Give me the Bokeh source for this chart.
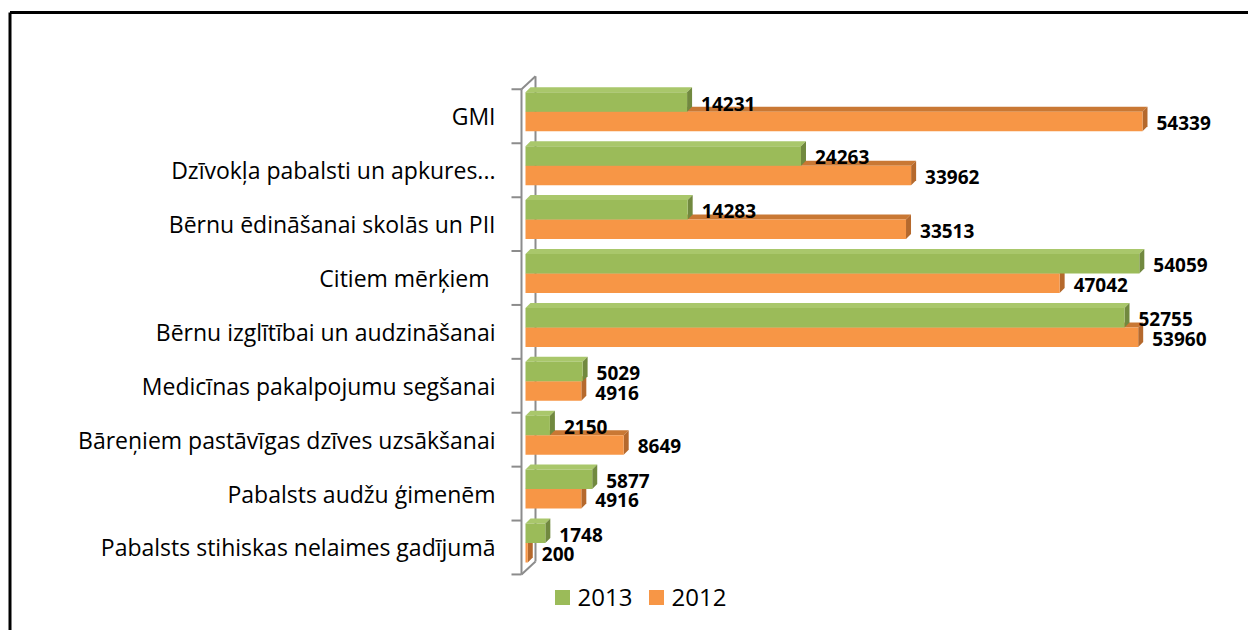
from bokeh.plotting import figure
from bokeh.models import Range1d
from bokeh.embed import file_html
from bokeh.resources import INLINE
from bokeh.core.properties import value

# ---------------- data ----------------
categories = [
    "GMI",
    "Dzīvokļa pabalsti un apkures...",
    "Bērnu ēdināšanai skolās un PII",
    "Citiem mērķiem ",
    "Bērnu izglītībai un audzināšanai",
    "Medicīnas pakalpojumu segšanai",
    "Bāreņiem pastāvīgas dzīves uzsākšanai",
    "Pabalsts audžu ģimenēm",
    "Pabalsts stihiskas nelaimes gadījumā",
]
vals_2013 = [14231, 24263, 14283, 54059, 52755, 5029, 2150, 5877, 1748]
vals_2012 = [54339, 33962, 33513, 47042, 53960, 4916, 8649, 4916, 200]
series_names = ["2013", "2012"]

# ---------------- style ----------------
GREEN = "#9BBB59"; GREEN_TOP = "#A9C76B"; GREEN_SIDE = "#71893F"
ORANGE = "#F79646"; ORANGE_TOP = "#C97834"; ORANGE_SIDE = "#B5692D"
AXIS_GRAY = "#8C8C8C"
FONT = "Open Sans"

W, H = 1248, 630
xr = Range1d(-46236, 63675)
yr = Range1d(-1.540, 10.148)
PXX = W / (xr.end - xr.start)
PXY = H / (yr.end - yr.start)

def dxu(px):
    return px / PXX

def dyu(px):
    return px / PXY

def x_of(page_px):
    return xr.start + page_px / PXX

def y_of(page_py):
    return yr.end - page_py / PXY

p = figure(width=W, height=H, x_range=xr, y_range=yr, output_backend="svg",
           toolbar_location=None, min_border=0)
p.axis.visible = False
p.grid.visible = False
p.outline_line_color = None
p.background_fill_color = "white"
p.border_fill_color = "white"

n = len(categories)
centers = [n - 1 - i for i in range(n)]
DX, DY = dxu(5), dyu(5)

# ---------------- back wall / axis ----------------
front_x = x_of(521)
back_x = x_of(535)
top_c = centers[0] + 0.5
bot_c = centers[-1] - 0.5
wall_dy = dyu(13)
p.segment(x0=[front_x], y0=[bot_c], x1=[front_x], y1=[top_c], line_color=AXIS_GRAY, line_width=2)
p.segment(x0=[back_x], y0=[bot_c + wall_dy], x1=[back_x], y1=[top_c + wall_dy], line_color=AXIS_GRAY, line_width=2)
p.segment(x0=[front_x, front_x], y0=[bot_c, top_c], x1=[back_x, back_x],
          y1=[bot_c + wall_dy, top_c + wall_dy], line_color=AXIS_GRAY, line_width=2)
ticks = [c + 0.5 for c in centers] + [bot_c]
p.segment(x0=[x_of(511)] * len(ticks), y0=ticks, x1=[front_x] * len(ticks), y1=ticks,
          line_color=AXIS_GRAY, line_width=2)

# ---------------- bars ----------------
def bar_parts(vals, lo_px, hi_px):
    bots, tops = [], []
    for c in centers:
        bots.append(c + dyu(lo_px))
        tops.append(c + dyu(hi_px))
    top_xs, top_ys, side_xs, side_ys = [], [], [], []
    for v, b, t in zip(vals, bots, tops):
        top_xs.append([0, v, v + DX, DX])
        top_ys.append([t, t, t + DY, t + DY])
        side_xs.append([v, v + DX, v + DX, v])
        side_ys.append([b, b + DY, t + DY, t])
    return bots, tops, top_xs, top_ys, side_xs, side_ys

gb, gt, gtx, gty, gsx, gsy = bar_parts(vals_2013, 4.5, 24)
ob, ot, otx, oty, osx, osy = bar_parts(vals_2012, -15, 4.5)

p.patches(otx, oty, fill_color=ORANGE_TOP, line_color=None)
p.patches(osx, osy, fill_color=ORANGE_SIDE, line_color=None)
p.quad(left=[0] * n, right=vals_2012, bottom=ob, top=ot, fill_color=ORANGE, line_color=None)
p.patches(gtx, gty, fill_color=GREEN_TOP, line_color=None)
p.patches(gsx, gsy, fill_color=GREEN_SIDE, line_color=None)
p.quad(left=[0] * n, right=vals_2013, bottom=gb, top=gt, fill_color=GREEN, line_color=None)

# ---------------- value labels ----------------
for vals, bots, tops in ((vals_2013, gb, gt), (vals_2012, ob, ot)):
    p.text(x=[v + dxu(14) for v in vals],
           y=[(b + t) / 2 - dyu(1.5) for b, t in zip(bots, tops)],
           text=[str(v) for v in vals], text_font=value(FONT), text_font_size="19px",
           text_font_style="bold", text_color="black", text_align="left",
           text_baseline="middle")

# ---------------- category labels ----------------
p.text(x=[x_of(495)] * n, y=centers, text=categories, text_font=value(FONT),
       text_font_size="23px", text_color="black", text_align="right", text_baseline="middle")

# ---------------- legend ----------------
leg_y = y_of(597)
p.scatter(x=[x_of(562), x_of(656)], y=[leg_y, leg_y], marker="square", size=15,
          fill_color=[GREEN, ORANGE], line_color=None)
p.text(x=[x_of(577), x_of(671)], y=[leg_y, leg_y], text=series_names, text_font=value(FONT),
       text_font_size="24px", text_color="black", text_align="left", text_baseline="middle")

# ---------------- frame border (left & top) ----------------
p.segment(x0=[x_of(9.5), x_of(9.5)], y0=[y_of(12), y_of(12)], x1=[x_of(9.5), x_of(1248)],
          y1=[y_of(630), y_of(12)], line_color="black", line_width=3)

open("out.html", "w").write(file_html(p, INLINE))
